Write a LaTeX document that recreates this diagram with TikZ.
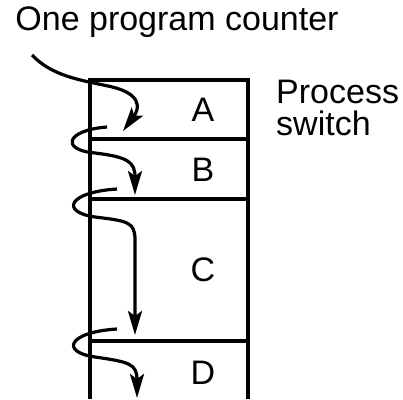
\documentclass[tikz,border=0pt]{standalone}
\usepackage{fontspec}
\setmainfont{Liberation Sans}
\usetikzlibrary{arrows.meta}

\tikzset{
	linea/.style={line width=3.6pt},
	flecha/.style={line width=3.2pt,-{Stealth[length=24pt,width=14pt,inset=5pt]}},
	letra/.style={inner sep=0pt,font=\fontsize{34}{34}\selectfont},
}

\begin{document}
\begin{tikzpicture}[x=1pt,y=-1pt]
		\useasboundingbox (0,0) rectangle (403,399);
		%Caja de procesos
		\draw[linea] (90,399) -- (90,80) -- (248,80) -- (248,399);
		\draw[linea] (90,139) -- (248,139);
		\draw[linea] (90,199) -- (248,199);
		\draw[linea] (90,341) -- (248,341);
		%Caja de procesos
		%Texto
		\node[letra](cont)at (177,22) {One program counter};
		\node[letra](A)at (203,110) {A};
		\node[letra](B)at (203,170) {B};
		\node[letra](C)at (203,270) {C};
		\node[letra](D)at (203,373) {D};
		\node[letra,anchor=base west](proc)at (276,103) {Process};
		\node[letra,anchor=base west](sw)at (276,135) {switch};
		
		%Flechas del contador
		\draw[flecha] (32,55) .. controls (52,76) and (80,80) .. (108,86)
			.. controls (142,93) and (140,108) .. (123,131);
		\draw[flecha] (107,127) .. controls (66,130) and (60,150) .. (95,153)
			.. controls (128,157) and (135,162) .. (135,195);
		\draw[flecha] (117,189) .. controls (68,192) and (60,212) .. (95,217)
			.. controls (128,221) and (135,222) .. (135,240) -- (135,335);
		\draw[flecha] (117,329) .. controls (68,332) and (60,352) .. (95,357)
			.. controls (130,362) and (137,364) .. (137,398);
		
	\end{tikzpicture}
\end{document}
